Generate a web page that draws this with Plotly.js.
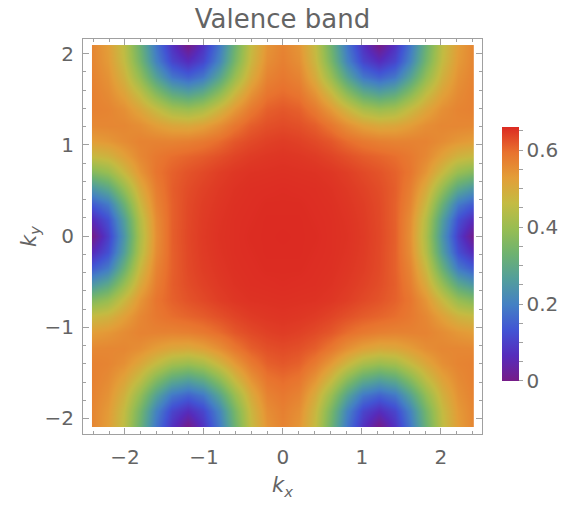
<!DOCTYPE html>
<html>
<head>
<meta charset="utf-8">
<script src="https://cdn.plot.ly/plotly-3.0.1.min.js"></script>
<style>html,body{margin:0;padding:0;background:#fff;}#chart{width:574px;height:512px;}</style>
</head>
<body>
<div id="chart"></div>
<script>
// k-space sample positions
const kx = [-2.418, -2.216, -2.015, -1.814, -1.612, -1.411, -1.209, -1.008, -0.806, -0.605, -0.403, -0.202, 0, 0.202, 0.403, 0.605, 0.806, 1.008, 1.209, 1.411, 1.612, 1.814, 2.015, 2.216, 2.418];
const ky = [-2.094, -1.92, -1.745, -1.571, -1.396, -1.222, -1.047, -0.873, -0.698, -0.524, -0.349, -0.175, 0, 0.175, 0.349, 0.524, 0.698, 0.873, 1.047, 1.222, 1.396, 1.571, 1.745, 1.92, 2.094];

// band values, one row per |ky| level (0 ... 2.094)
const row0  = [0, .098, .245, .426, .55, .611, .633, .645, .652, .655, .658, .659, .66, .659, .658, .655, .652, .645, .633, .611, .55, .426, .245, .098, 0];
const row1  = [.061, .125, .266, .437, .554, .61, .632, .644, .651, .655, .657, .659, .659, .659, .657, .655, .651, .644, .632, .61, .554, .437, .266, .125, .061];
const row2  = [.141, .19, .323, .469, .566, .61, .631, .642, .649, .654, .656, .658, .658, .658, .656, .654, .649, .642, .631, .61, .566, .469, .323, .19, .141];
const row3  = [.245, .292, .395, .503, .576, .612, .628, .638, .646, .652, .655, .656, .657, .656, .655, .652, .646, .638, .628, .612, .576, .503, .395, .292, .245];
const row4  = [.365, .397, .47, .54, .588, .609, .622, .631, .641, .648, .652, .653, .654, .653, .652, .648, .641, .631, .622, .609, .588, .54, .47, .397, .365];
const row5  = [.465, .482, .522, .561, .583, .597, .606, .614, .625, .636, .644, .648, .65, .648, .644, .636, .625, .614, .606, .597, .583, .561, .522, .482, .465];
const row6  = [.527, .537, .554, .568, .569, .568, .573, .583, .599, .619, .631, .639, .643, .639, .631, .619, .599, .583, .573, .568, .569, .568, .554, .537, .527];
const row7  = [.56, .562, .562, .551, .528, .51, .505, .521, .55, .586, .612, .625, .63, .625, .612, .586, .55, .521, .505, .51, .528, .551, .562, .562, .56];
const row8  = [.571, .566, .549, .511, .464, .417, .402, .424, .478, .535, .582, .61, .618, .61, .582, .535, .478, .424, .402, .417, .464, .511, .549, .566, .571];
const row9  = [.572, .556, .518, .455, .369, .30, .273, .304, .378, .472, .543, .588, .599, .588, .543, .472, .378, .304, .273, .30, .369, .455, .518, .556, .572];
const row10 = [.569, .545, .486, .39, .275, .186, .154, .187, .28, .40, .502, .568, .584, .568, .502, .40, .28, .187, .154, .186, .275, .39, .486, .545, .569];
const row11 = [.565, .533, .461, .342, .205, .109, .066, .109, .207, .349, .474, .551, .573, .551, .474, .349, .207, .109, .066, .109, .205, .342, .461, .533, .565];
const row12 = [.564, .527, .451, .324, .182, .077, 0, .077, .184, .33, .462, .541, .567, .541, .462, .33, .184, .077, 0, .077, .182, .324, .451, .527, .564];

const zRows = [row12, row11, row10, row9, row8, row7, row6, row5, row4, row3, row2, row1, row0,
               row1, row2, row3, row4, row5, row6, row7, row8, row9, row10, row11, row12];

// colour-bar ticks (every 0.05, labels every 0.2)
const barTickVals = [0, 0.05, 0.1, 0.15, 0.2, 0.25, 0.3, 0.35, 0.4, 0.45, 0.5, 0.55, 0.6, 0.65];
const barTickText = ['0', '', '', '', '0.2', '', '', '', '0.4', '', '', '', '0.6', ''];

const rainbow = [
  [0.0, 'rgb(118,28,136)'],
  [0.1, 'rgb(86,44,188)'],
  [0.2, 'rgb(66,84,212)'],
  [0.3, 'rgb(68,128,196)'],
  [0.4, 'rgb(82,158,156)'],
  [0.5, 'rgb(110,178,112)'],
  [0.6, 'rgb(152,189,82)'],
  [0.7, 'rgb(196,187,66)'],
  [0.8, 'rgb(227,158,56)'],
  [0.9, 'rgb(232,114,46)'],
  [1.0, 'rgb(220,42,34)']
];

const fontFam = '"DejaVu Sans", Verdana, sans-serif';
const grey = '#646464';
const frame = '#a0a0a0';

const trace = {
  type: 'contour',
  x: kx, y: ky, z: zRows,
  colorscale: rainbow,
  zmin: 0, zmax: 0.66,
  contours: {coloring: 'heatmap', showlines: false},
  line: {width: 0},
  hoverinfo: 'skip',
  colorbar: {
    thickness: 17,
    thicknessmode: 'pixels',
    len: 254, lenmode: 'pixels',
    x: 1.05, xanchor: 'left', xpad: 0,
    y: 0.4557, yanchor: 'middle', ypad: 0,
    tickmode: 'array',
    tickvals: barTickVals,
    ticktext: barTickText,
    ticks: 'outside', ticklen: 4, tickcolor: frame,
    tickfont: {family: fontFam, size: 20, color: grey},
    outlinewidth: 0
  }
};

const axisCommon = {
  showgrid: false, zeroline: false,
  showline: true, linecolor: frame, linewidth: 1, mirror: 'allticks',
  ticks: 'inside', ticklen: 6, tickcolor: frame, tickwidth: 1,
  dtick: 1, tick0: 0,
  minor: {dtick: 0.2, tick0: 0, ticks: 'inside', ticklen: 3, tickcolor: frame, showgrid: false},
  tickfont: {family: fontFam, size: 20, color: grey},
  fixedrange: true
};

const layout = {
  width: 574, height: 512,
  margin: {l: 83, r: 92, t: 39, b: 78, autoexpand: false},
  paper_bgcolor: '#ffffff', plot_bgcolor: '#ffffff',
  title: {text: 'Valence band', x: 0.5, xref: 'paper', xanchor: 'center', y: 0.963, yref: 'container', yanchor: 'middle',
          font: {family: fontFam, size: 26, color: grey}},
  xaxis: Object.assign({}, axisCommon, {
    range: [-2.53, 2.52],
    ticklabelstandoff: 5,
    title: {text: '<i>k</i><sub><i>x</i></sub>', font: {family: fontFam, size: 21, color: grey}, standoff: 9}
  }),
  yaxis: Object.assign({}, axisCommon, {
    range: [-2.17, 2.16],
    ticklabelstandoff: 4,
    title: {text: '<i>k</i><sub><i>y</i></sub>', font: {family: fontFam, size: 21, color: grey}, standoff: 2}
  }),
  showlegend: false
};

Plotly.newPlot('chart', [trace], layout, {displayModeBar: false, staticPlot: true});
</script>
</body>
</html>
